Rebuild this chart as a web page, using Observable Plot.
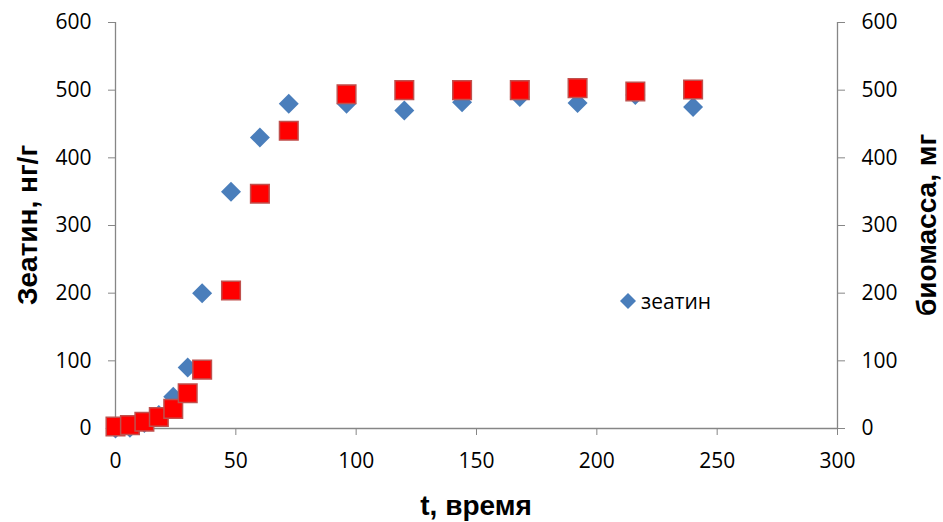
<!DOCTYPE html>
<html>
<head>
<meta charset="utf-8">
<script src="https://cdn.jsdelivr.net/npm/d3@7"></script>
<script src="https://cdn.jsdelivr.net/npm/@observablehq/plot@0.6"></script>
<style>
  html, body { margin: 0; padding: 0; background: #fff; }
  #wrap { position: relative; width: 943px; height: 522px; }
  #legend { position: absolute; left: 619px; top: 287px; font: 21px "Open Sans", sans-serif; color: #000; display: flex; align-items: center; }
  #legend svg { margin-right: 4px; }
</style>
</head>
<body>
<div id="wrap"></div>
<script>
const hours = [0, 6, 12, 18, 24, 30, 36, 48, 60, 72, 96, 120, 144, 168, 192, 216, 240];
const zeatin = [0, 1, 8, 20, 47, 90, 200, 350, 430, 480, 480, 470, 482, 490, 481, 493, 475];
const biomass = [3, 5, 10, 17, 29, 52, 87, 204, 347, 440, 494, 500, 500, 500, 503, 498, 501];
const xTicks = [0, 50, 100, 150, 200, 250, 300];
const yTicks = [0, 100, 200, 300, 400, 500, 600];
const xTitle = "t, время";
const yLeftTitle = "Зеатин, нг/г";
const yRightTitle = "биомасса, мг";
const legendLabel = "зеатин";

const zData = hours.map((t, i) => ({t, v: zeatin[i]}));
const bData = hours.map((t, i) => ({t, v: biomass[i]}));

const axisColor = "#868686";
const chart = Plot.plot({
  width: 943,
  height: 522,
  marginLeft: 115,
  marginRight: 106,
  marginTop: 22,
  marginBottom: 94,
  style: {fontFamily: "'Open Sans', sans-serif", fontSize: "21px", color: "#000", background: "#fff"},
  x: {domain: [0, 300]},
  y: {domain: [0, 600]},
  marks: [
    Plot.ruleY([0], {stroke: axisColor, strokeWidth: 1.3}),
    Plot.ruleX([0, 300], {stroke: axisColor, strokeWidth: 1.3}),
    Plot.axisX({ticks: xTicks, tickSize: 7, tickPadding: 18, stroke: axisColor, label: null, tickFormat: d => d, fill: "#000"}),
    Plot.axisY({ticks: yTicks, anchor: "left", tickSize: 7, tickPadding: 17, stroke: axisColor, label: null, tickFormat: d => d, fill: "#000"}),
    Plot.axisY({ticks: yTicks, anchor: "right", tickSize: 7, tickPadding: 17, stroke: axisColor, label: null, tickFormat: d => d, fill: "#000"}),
    Plot.dot(zData, {x: "t", y: "v", symbol: "diamond2", r: 9, fill: "#4a7ebb", stroke: "none"}),
    Plot.dot(bData, {x: "t", y: "v", symbol: "square", r: 10.5, fill: "#ff0000", stroke: "#c0504d", strokeWidth: 1.5})
  ]
});

const svg = d3.select(chart);
const xs = chart.scale("x");
const ys = chart.scale("y");
const xMid = (xs.apply(0) + xs.apply(300)) / 2;
const yMid = (ys.apply(0) + ys.apply(600)) / 2;
const titleFont = (sel) => sel
  .attr("text-anchor", "middle")
  .attr("dominant-baseline", "central")
  .attr("font-family", "'Liberation Sans', Arial, sans-serif")
  .attr("font-weight", "bold")
  .attr("font-size", 28)
  .attr("fill", "#000");
svg.append("text").attr("transform", `translate(${xMid},${ys.apply(0) + 77})`).call(titleFont).text(xTitle);
svg.append("text").attr("transform", `translate(27,${yMid}) rotate(-90)`).call(titleFont).text(yLeftTitle);
svg.append("text").attr("transform", `translate(926,${yMid}) rotate(-90)`).call(titleFont).text(yRightTitle);

document.getElementById("wrap").appendChild(chart);

const lg = document.createElement("div");
lg.id = "legend";
lg.innerHTML = `<svg width="18" height="18" viewBox="-9 -9 18 18"><path d="M0,-8L8,0L0,8L-8,0Z" fill="#4a7ebb"/></svg><span>${legendLabel}</span>`;
document.getElementById("wrap").appendChild(lg);
</script>
</body>
</html>
